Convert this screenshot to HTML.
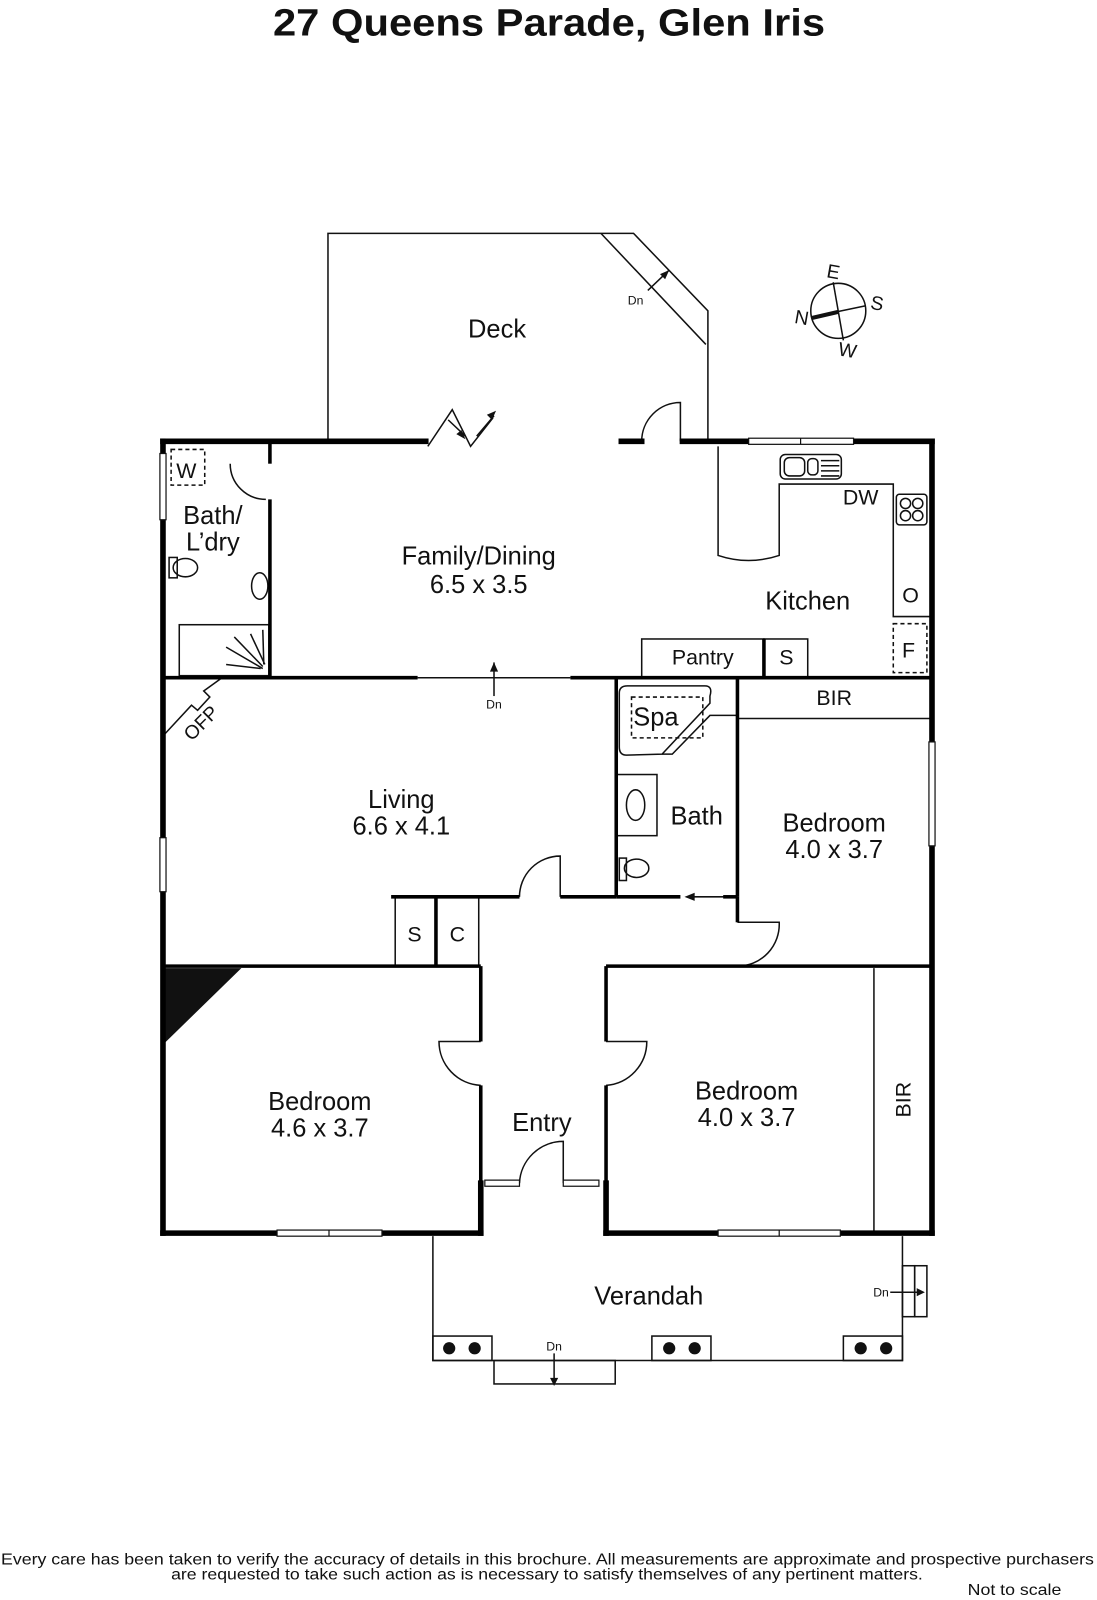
<!DOCTYPE html>
<html><head><meta charset="utf-8"><style>
html,body{margin:0;padding:0;background:#fff}
svg{display:block}
text{font-family:"Liberation Sans",sans-serif;fill:#111}
</style></head><body>
<svg width="1097" height="1600" viewBox="0 0 1077 1570" preserveAspectRatio="none" xmlns="http://www.w3.org/2000/svg">
<text x="268" y="35" font-size="37" font-weight="bold" textLength="542" lengthAdjust="spacingAndGlyphs">27 Queens Parade, Glen Iris</text>

<g fill="none" stroke="#111" stroke-width="1.5">
<!-- deck -->
<polyline points="322,433 322,229 622,229 695,305 695,433"/>
<line x1="590" y1="229" x2="693" y2="338"/>
<line x1="636" y1="285" x2="657" y2="265"/>
<!-- bifold -->
<polyline points="420,438 444,402 462,438 484,410"/>
<line x1="440" y1="412" x2="457" y2="428"/>
<line x1="468" y1="428" x2="485" y2="408"/>
<!-- deck door -->
<path d="M630,433 A38,38 0 0 1 668,395 L668,433"/>
<!-- kitchen -->
<path d="M705,438 L705,545 Q735,555 765,545 L765,475 L877,475 L877,605 L915,605"/>
<rect x="766" y="446" width="60" height="24" rx="5"/>
<rect x="770" y="449" width="20" height="18" rx="5"/>
<rect x="793" y="450" width="10" height="16" rx="4"/>
<line x1="806" y1="452" x2="824" y2="452"/><line x1="806" y1="457" x2="824" y2="457"/><line x1="806" y1="462" x2="824" y2="462"/><line x1="806" y1="467" x2="824" y2="467"/>
<rect x="880" y="485" width="30" height="30" rx="3"/>
<circle cx="889" cy="494" r="5"/><circle cx="901" cy="494" r="5"/><circle cx="889" cy="506" r="5"/><circle cx="901" cy="506" r="5"/>
<rect x="877" y="612" width="33" height="48" stroke-dasharray="4,3"/>
<!-- pantry -->
<rect x="630" y="627" width="120" height="38"/>
<rect x="750" y="627" width="43" height="38"/>
<!-- bath/ldry -->
<rect x="168" y="441" width="33" height="35" stroke-dasharray="4,3"/>
<path d="M226,455 A35,35 0 0 0 261,490"/>
<rect x="176" y="613" width="88" height="50"/>
<line x1="222" y1="635" x2="258" y2="656"/><line x1="230" y1="625" x2="258" y2="654"/><line x1="246" y1="622" x2="260" y2="652"/><line x1="258" y1="618" x2="259" y2="652"/><line x1="222" y1="652" x2="256" y2="656"/>
<ellipse cx="182" cy="557" rx="12" ry="9"/><rect x="166" y="547" width="8" height="20"/>
<ellipse cx="255" cy="575" rx="8" ry="13"/>
<!-- interior thin lines -->
<line x1="410" y1="665" x2="560" y2="665"/>
<line x1="485" y1="683" x2="485" y2="650"/>
<!-- OFP -->
<path d="M162,720 L188,692 L194,697 L206,684 L200,678 L218,665"/>
<!-- spa bath -->
<path d="M616,673 L692,673 Q700,673 697,683 L697,690 L650,740 L615,741 Q608,741 608,733 L608,680 Q608,673 616,673 Z"/>
<rect x="620" y="684" width="70" height="40" stroke-dasharray="4,3"/>
<polyline points="650,740 660,740 697,702 724,702"/>
<rect x="605" y="760" width="40" height="60"/>
<ellipse cx="624" cy="790" rx="9" ry="15"/>
<ellipse cx="625" cy="852" rx="12" ry="9"/><rect x="608" y="842" width="7" height="22"/>
<line x1="680" y1="880" x2="716" y2="880"/>
<line x1="724" y1="705" x2="915" y2="705"/>
<path d="M724,948 A41,41 0 0 0 765,905 L724,905"/>
<!-- S C -->
<line x1="388" y1="880" x2="388" y2="948"/><line x1="470" y1="880" x2="470" y2="948"/>
<path d="M510,880 A40,40 0 0 1 550,840 L550,880"/>
<!-- bedroom doors -->
<path d="M472,1022 L431,1022 A43,43 0 0 0 472,1065"/>
<path d="M595,1022 L635,1022 A43,43 0 0 1 595,1065"/>
<path d="M510,1161 A43,43 0 0 1 553,1120 L553,1161"/>
<line x1="858" y1="950" x2="858" y2="1208"/>
<!-- verandah -->
<polyline points="425,1213 425,1335 886,1335 886,1213"/>
<rect x="425" y="1311" width="58" height="24"/>
<rect x="640" y="1311" width="58" height="24"/>
<rect x="828" y="1311" width="58" height="24"/>
<rect x="485" y="1335" width="119" height="23"/>
<line x1="544" y1="1328" x2="544" y2="1358"/>
<rect x="886" y="1242" width="12" height="50"/><rect x="898" y="1242" width="12" height="50"/>
<line x1="874" y1="1268" x2="906" y2="1268"/>
<!-- compass -->
<circle cx="823" cy="305" r="27"/>
<line x1="818" y1="277" x2="828" y2="334"/>
<line x1="797" y1="311" x2="850" y2="300"/>
</g>
<line x1="797" y1="312" x2="823" y2="306" stroke="#111" stroke-width="4"/>
<g fill="#111">
<polygon points="657,265 648,269 653,274"/>
<polygon points="485,650 481,659 489,659"/>
<polygon points="487,403 478,407 483,412"/>
<polygon points="457,431 448,426 453,422"/>
<polygon points="672,880 682,876 682,884"/>
<polygon points="544,1360 540,1352 548,1352"/>
<polygon points="908,1268 900,1264 900,1272"/>
<polygon points="160,950 237,950 160,1025"/>
<circle cx="441" cy="1323" r="6"/><circle cx="466" cy="1323" r="6"/>
<circle cx="657" cy="1323" r="6"/><circle cx="682" cy="1323" r="6"/>
<circle cx="845" cy="1323" r="6"/><circle cx="870" cy="1323" r="6"/>
</g>

<!-- thick walls -->
<g stroke="#000" stroke-width="5.5" fill="none" stroke-linecap="square">
<line x1="160" y1="433" x2="418" y2="433"/>
<line x1="610" y1="433" x2="630" y2="433"/>
<line x1="670" y1="433" x2="735" y2="433"/>
<line x1="838" y1="433" x2="915" y2="433"/>
<line x1="915" y1="433" x2="915" y2="728"/>
<line x1="915" y1="830" x2="915" y2="1210"/>
<line x1="160" y1="433" x2="160" y2="445"/>
<line x1="160" y1="510" x2="160" y2="822"/>
<line x1="160" y1="875" x2="160" y2="1210"/>
<line x1="160" y1="1210" x2="272" y2="1210"/>
<line x1="375" y1="1210" x2="472" y2="1210"/>
<line x1="472" y1="1161" x2="472" y2="1210"/>
<line x1="595" y1="1161" x2="595" y2="1210"/>
<line x1="595" y1="1210" x2="705" y2="1210"/>
<line x1="825" y1="1210" x2="915" y2="1210"/>
</g>
<g stroke="#000" stroke-width="3.5" fill="none">
<line x1="265" y1="433" x2="265" y2="455"/>
<line x1="265" y1="490" x2="265" y2="665"/>
<line x1="160" y1="665" x2="410" y2="665"/>
<line x1="560" y1="665" x2="915" y2="665"/>
<line x1="605" y1="665" x2="605" y2="880"/>
<line x1="724" y1="665" x2="724" y2="880"/>
<line x1="724" y1="880" x2="724" y2="905"/>
<line x1="605" y1="880" x2="668" y2="880"/>
<line x1="710" y1="880" x2="724" y2="880"/>
<line x1="384" y1="880" x2="510" y2="880"/>
<line x1="550" y1="880" x2="605" y2="880"/>
<line x1="428" y1="880" x2="428" y2="948"/>
<line x1="160" y1="948" x2="472" y2="948"/>
<line x1="595" y1="948" x2="915" y2="948"/>
<line x1="472" y1="948" x2="472" y2="1022"/>
<line x1="472" y1="1065" x2="472" y2="1161"/>
<line x1="595" y1="948" x2="595" y2="1022"/>
<line x1="595" y1="1065" x2="595" y2="1161"/>
<line x1="750" y1="627" x2="750" y2="665"/>
</g>
<!-- windows -->
<g fill="#fff" stroke="#111" stroke-width="1.2">
<rect x="735" y="430" width="103" height="6"/><line x1="786" y1="430" x2="786" y2="436"/>
<rect x="157" y="445" width="6" height="65"/>
<rect x="157" y="822" width="6" height="53"/>
<rect x="912" y="728" width="6" height="102"/>
<rect x="272" y="1207" width="103" height="6"/><line x1="323" y1="1207" x2="323" y2="1213"/>
<rect x="705" y="1207" width="120" height="6"/><line x1="765" y1="1207" x2="765" y2="1213"/>
<rect x="476" y="1158" width="34" height="6"/>
<rect x="553" y="1158" width="35" height="6"/>
</g>

<g font-size="25" text-anchor="middle">
<text x="488" y="331">Deck</text>
<text x="470" y="554">Family/Dining</text>
<text x="470" y="582">6.5 x 3.5</text>
<text x="209" y="514">Bath/</text>
<text x="209" y="540">L’dry</text>
<text x="183" y="469" font-size="21">W</text>
<text x="793" y="598">Kitchen</text>
<text x="845" y="495" font-size="21">DW</text>
<text x="894" y="591" font-size="21">O</text>
<text x="892" y="645" font-size="21">F</text>
<text x="690" y="652" font-size="21">Pantry</text>
<text x="772" y="652" font-size="21">S</text>
<text x="819" y="692" font-size="21">BIR</text>
<text x="644" y="712">Spa</text>
<text x="684" y="809">Bath</text>
<text x="819" y="816">Bedroom</text>
<text x="819" y="842">4.0 x 3.7</text>
<text x="394" y="793">Living</text>
<text x="394" y="819">6.6 x 4.1</text>
<text x="407" y="924" font-size="21">S</text>
<text x="449" y="924" font-size="21">C</text>
<text x="314" y="1089">Bedroom</text>
<text x="314" y="1115">4.6 x 3.7</text>
<text x="532" y="1110">Entry</text>
<text x="733" y="1079">Bedroom</text>
<text x="733" y="1105">4.0 x 3.7</text>
<text x="637" y="1280">Verandah</text>
<text x="894" y="1079" font-size="21" transform="rotate(-90 894 1079)">BIR</text>
<text x="202" y="714" font-size="19" transform="rotate(-45 202 714)">OFP</text>
<text x="817" y="273" font-size="19" transform="rotate(10 817 273)">E</text>
<text x="860" y="304" font-size="19" transform="rotate(10 860 304)">S</text>
<text x="786" y="318" font-size="19" transform="rotate(10 786 318)">N</text>
<text x="831" y="350" font-size="19" transform="rotate(10 831 350)">W</text>
</g>
<g font-size="12" text-anchor="middle">
<text x="624" y="299">Dn</text>
<text x="485" y="695">Dn</text>
<text x="544" y="1325">Dn</text>
<text x="865" y="1272">Dn</text>
</g>
<g font-size="15">
<text x="1" y="1535" textLength="1073" lengthAdjust="spacingAndGlyphs">Every care has been taken to verify the accuracy of details in this brochure.  All measurements are approximate and prospective purchasers</text>
<text x="168" y="1550" textLength="738" lengthAdjust="spacingAndGlyphs">are requested to take such action as is necessary to satisfy themselves of any pertinent matters.</text>
<text x="950" y="1565" textLength="92" lengthAdjust="spacingAndGlyphs">Not to scale</text>
</g>
</svg>
</body></html>
